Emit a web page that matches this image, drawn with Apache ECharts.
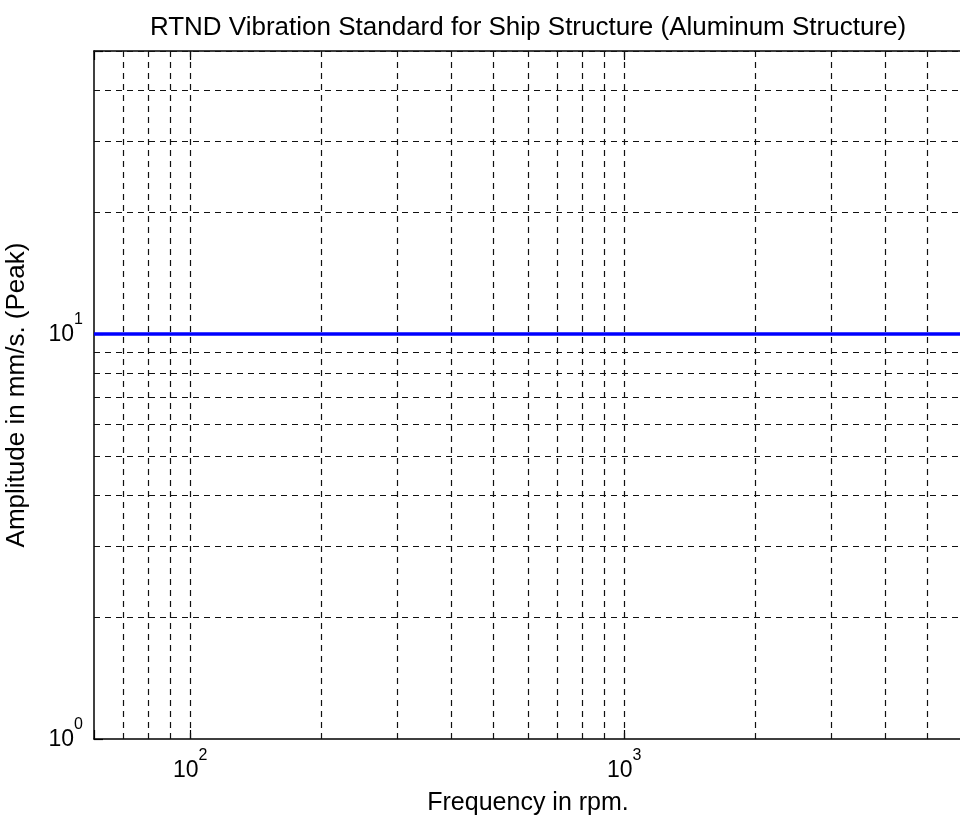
<!DOCTYPE html>
<html>
<head>
<meta charset="utf-8">
<script src="https://cdn.jsdelivr.net/npm/echarts@6/dist/echarts.min.js"></script>
<style>
  html, body { margin: 0; padding: 0; background: #ffffff; }
  #chart { width: 960px; height: 826px; }
</style>
</head>
<body>
<div id="chart"></div>
<script>
// Labels
const chartTitle = 'RTND Vibration Standard for Ship Structure (Aluminum Structure)';
const xAxisTitle = 'Frequency in rpm.';
const yAxisTitle = 'Amplitude in mm/s. (Peak)';

// Axis limits (log scales)
const freqLimits = [60, 6000];
const ampLimits = [1, 50];

// Vibration limit line: constant 10 mm/s peak across the frequency range
const limitFreq = [60, 6000];
const limitAmp = [10, 10];

// Log grid positions (major + minor)
const freqGrid = [70, 80, 90, 100, 200, 300, 400, 500, 600, 700, 800, 900, 1000, 2000, 3000, 4000, 5000];
const ampGrid = [2, 3, 4, 5, 6, 7, 8, 9, 10, 20, 30, 40, 50];

const FONT = "'Liberation Sans', Arial, sans-serif";
const INK = '#000000';

// Decade labels written as 10 with a raised exponent
function powerLabel(v) {
  const e = Math.log10(v);
  const r = Math.round(e);
  if (Math.abs(e - r) > 1e-6) return '';
  return '{b|10}{s|' + r + '}';
}

const powerRich = {
  b: { fontSize: 23, lineHeight: 34, verticalAlign: 'bottom', fontFamily: FONT, color: INK },
  s: { fontSize: 16, lineHeight: 16, verticalAlign: 'top', fontFamily: FONT, color: INK }
};

const gridDash = { color: '#111111', width: 1.2, type: [6, 5] };

const chart = echarts.init(document.getElementById('chart'), null, { renderer: 'canvas' });

chart.setOption({
  backgroundColor: '#ffffff',
  animation: false,
  graphic: [{
    type: 'text',
    x: 528,
    y: 15,
    style: {
      text: chartTitle,
      font: '26px ' + FONT,
      fill: INK,
      align: 'center',
      verticalAlign: 'top'
    }
  }],
  grid: { left: 94, top: 51, width: 868, height: 688, containLabel: false, outerBoundsMode: 'none' },
  xAxis: [{
    type: 'log',
    logBase: 10,
    min: freqLimits[0],
    max: freqLimits[1],
    position: 'bottom',
    name: xAxisTitle,
    nameLocation: 'middle',
    nameGap: 52,
    nameTextStyle: { fontSize: 25, fontFamily: FONT, color: INK },
    axisLine: { show: true, lineStyle: { color: INK, width: 1.5 } },
    axisTick: { show: true, inside: true, length: 9, lineStyle: { color: INK, width: 1.2 } },
    axisLabel: { formatter: powerLabel, rich: powerRich, margin: 9 },
    splitLine: { show: false },
    minorTick: { show: false },
    minorSplitLine: { show: false }
  }, {
    type: 'log',
    logBase: 10,
    min: freqLimits[0],
    max: freqLimits[1],
    position: 'top',
    axisLine: { show: true, lineStyle: { color: INK, width: 1.5 } },
    axisTick: { show: true, inside: true, length: 9, lineStyle: { color: INK, width: 1.2 } },
    axisLabel: { show: false },
    splitLine: { show: false }
  }],
  yAxis: [{
    type: 'log',
    logBase: 10,
    min: ampLimits[0],
    max: ampLimits[1],
    position: 'left',
    name: yAxisTitle,
    nameLocation: 'middle',
    nameGap: 64,
    nameRotate: 90,
    nameTextStyle: { fontSize: 26, fontFamily: FONT, color: INK },
    axisLine: { show: true, lineStyle: { color: INK, width: 1.5 } },
    axisTick: { show: true, inside: true, length: 9, lineStyle: { color: INK, width: 1.2 } },
    axisLabel: { formatter: powerLabel, rich: powerRich, margin: 11, padding: [0, 0, 10, 0] },
    splitLine: { show: false },
    minorTick: { show: false },
    minorSplitLine: { show: false }
  }],
  series: [{
    // dashed log grid
    type: 'line',
    data: [],
    z: 1,
    silent: true,
    markLine: {
      silent: true,
      z: 1,
      symbol: ['none', 'none'],
      label: { show: false },
      lineStyle: gridDash,
      emphasis: { disabled: true },
      animation: false,
      data: freqGrid.map(v => ({ xAxis: v })).concat(ampGrid.map(v => ({ yAxis: v })))
    }
  }, {
    type: 'line',
    data: limitFreq.map((f, i) => [f, limitAmp[i]]),
    z: 10,
    showSymbol: false,
    symbol: 'none',
    lineStyle: { color: '#0000ff', width: 3.5 },
    silent: true
  }]
});
</script>
</body>
</html>
